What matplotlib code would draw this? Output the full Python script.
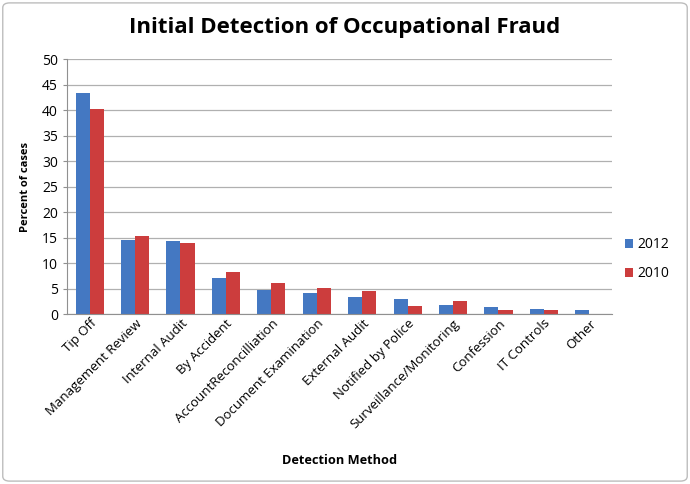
import numpy as np
import matplotlib.pyplot as plt
from matplotlib.patches import FancyBboxPatch

methods = ["Tip Off", "Management Review", "Internal Audit", "By Accident",
           "AccountReconcilliation", "Document Examination", "External Audit",
           "Notified by Police", "Surveillance/Monitoring", "Confession",
           "IT Controls", "Other"]
pct_2012 = [43.3, 14.6, 14.4, 7.0, 4.8, 4.1, 3.3, 3.0, 1.8, 1.3, 1.0, 0.9]
pct_2010 = [40.2, 15.4, 13.9, 8.3, 6.1, 5.1, 4.5, 1.6, 2.5, 0.9, 0.8, 0.0]

plt.rcParams['font.family'] = ['Open Sans', 'DejaVu Sans']

fig = plt.figure(figsize=(6.9, 4.84), dpi=100)
fig.patches.append(FancyBboxPatch((0.004, 0.006), 0.992, 0.988,
                                  boxstyle="round,pad=0,rounding_size=0.01",
                                  transform=fig.transFigure, fill=False,
                                  edgecolor="#bdbdbd", linewidth=1.0))
ax = fig.add_axes([0.097, 0.351, 0.79, 0.527])

x = np.arange(len(methods))
w = 0.31
ax.bar(x - w / 2, pct_2012, w, color="#4478C2", label="2012")
ax.bar(x + w / 2, pct_2010, w, color="#CC3D3D", label="2010")

ax.set_xlim(-0.5, len(methods) - 0.5)
ax.set_ylim(0, 50)
ax.set_yticks(range(0, 51, 5))
ax.yaxis.grid(True, color="#b0b0b0", linewidth=0.9)
ax.set_axisbelow(True)
for s in ["top", "right"]:
    ax.spines[s].set_visible(False)
for s in ["left", "bottom"]:
    ax.spines[s].set_color("#909090")
ax.tick_params(axis="y", length=3, labelsize=10, colors="#909090", labelcolor="black")
ax.tick_params(axis="x", length=0, labelsize=9.5, pad=2)
ax.set_xticks(x)
ax.set_xticklabels(methods, rotation=45, ha="right", rotation_mode="anchor")

ax.set_ylabel("Percent of cases", fontsize=8, fontweight="bold", labelpad=8)
ax.set_xlabel("Detection Method", fontsize=9.2, fontweight="bold", labelpad=17)
fig.suptitle("Initial Detection of Occupational Fraud", fontsize=16,
             fontweight="bold", y=0.965)

ax.legend(loc="center left", bbox_to_anchor=(1.0, 0.215), frameon=False,
          fontsize=10, handlelength=0.6, handleheight=0.6, handletextpad=0.3,
          labelspacing=1.0)

fig.savefig("out.png", dpi=100)
